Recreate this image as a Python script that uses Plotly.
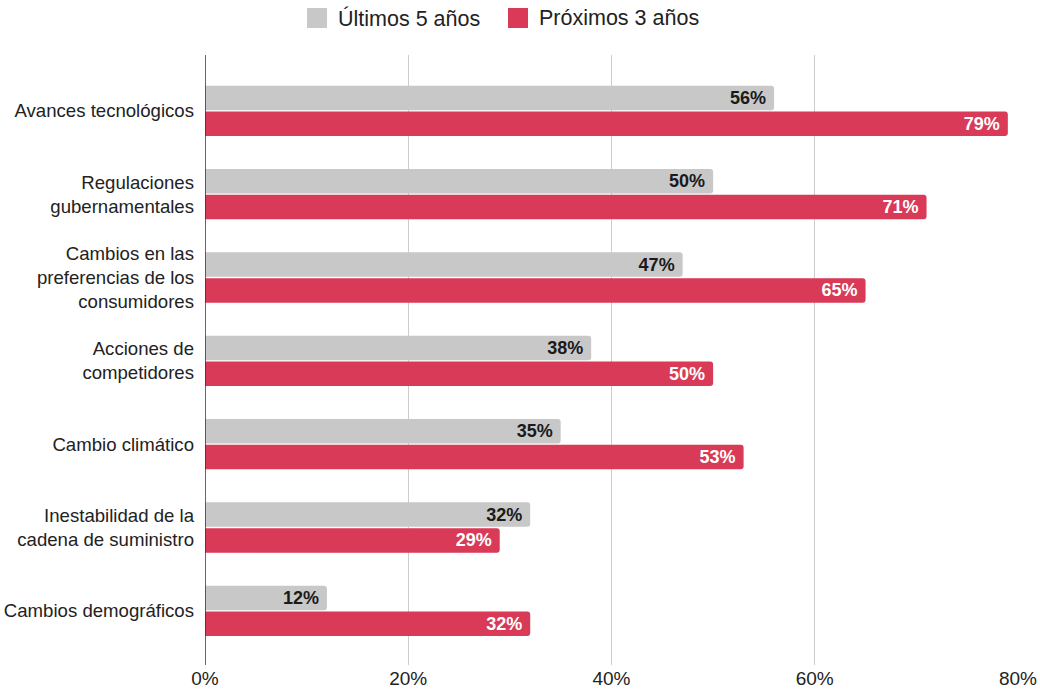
import plotly.graph_objects as go

categories = [
    "Avances tecnológicos",
    "Regulaciones<br>gubernamentales",
    "Cambios en las<br>preferencias de los<br>consumidores",
    "Acciones de<br>competidores",
    "Cambio climático",
    "Inestabilidad de la<br>cadena de suministro",
    "Cambios demográficos",
]
ultimos_5 = [56, 50, 47, 38, 35, 32, 12]
proximos_3 = [79, 71, 65, 50, 53, 29, 32]
series_names = ["Últimos 5 años", "Próximos 3 años"]
x_ticks = [0, 20, 40, 60, 80]
x_tick_labels = ["0%", "20%", "40%", "60%", "80%"]

FONT = "Liberation Sans, Arial, sans-serif"
GRAY = "#c8c8c8"
RED = "#d83a57"
TEXT = "#222222"

# plot area in pixels
W, H = 1040, 695
L, R, T, B = 205, 22, 55, 30
PW, PH = W - L - R, H - T - B


def px_to_paper(x, y):
    return (x - L) / PW, (H - B - y) / PH


fig = go.Figure()
fig.add_trace(go.Bar(
    name=series_names[0], y=categories, x=ultimos_5, orientation="h",
    marker=dict(color=GRAY, line=dict(width=0)),
    text=[f"{v}%\u00a0" for v in ultimos_5], textposition="inside",
    insidetextanchor="end", showlegend=False,
    textfont=dict(family=FONT, size=18, color="#1a1a1a", weight="bold"),
))
fig.add_trace(go.Bar(
    name=series_names[1], y=categories, x=proximos_3, orientation="h",
    marker=dict(color=RED, line=dict(width=0)),
    text=[f"{v}%\u00a0" for v in proximos_3], textposition="inside",
    insidetextanchor="end", showlegend=False,
    textfont=dict(family=FONT, size=18, color="white", weight="bold"),
))

fig.update_layout(
    width=W, height=H,
    margin=dict(l=L, r=R, t=T, b=B, autoexpand=False),
    paper_bgcolor="white", plot_bgcolor="white",
    barmode="group", bargap=0.38, bargroupgap=0.05,
    barcornerradius=3,
    font=dict(family=FONT, size=18, color=TEXT),
    uniformtext=dict(minsize=18, mode="show"),
    showlegend=False,
    xaxis=dict(
        range=[0, 80], tickvals=x_ticks, ticktext=x_tick_labels,
        showgrid=True, gridcolor="#cccccc", gridwidth=1,
        zeroline=False, showline=False, ticks="", automargin=False,
        tickfont=dict(family=FONT, size=19, color=TEXT),
    ),
    yaxis=dict(
        categoryorder="array", categoryarray=categories,
        range=[6.65, -0.67], showgrid=False, zeroline=False,
        showline=False, ticks="", ticklabelstandoff=10, automargin=False,
        tickfont=dict(family=FONT, size=18.6, color=TEXT),
    ),
)

# baseline at 0%
fig.add_shape(type="line", xref="x", yref="paper", x0=0, x1=0, y0=0, y1=1,
              line=dict(color="#333333", width=1.5))

# legend drawn as swatches + labels along the top
legend_items = [(series_names[0], GRAY, 307), (series_names[1], RED, 508)]
for name, color, sx in legend_items:
    x0, y0 = px_to_paper(sx, 28)
    x1, y1 = px_to_paper(sx + 20, 8)
    fig.add_shape(type="rect", xref="paper", yref="paper",
                  x0=x0, x1=x1, y0=y0, y1=y1,
                  fillcolor=color, line=dict(width=0))
    tx, ty = px_to_paper(sx + 29, 18)
    fig.add_annotation(xref="paper", yref="paper", x=tx, y=ty,
                       xanchor="left", yanchor="middle", showarrow=False,
                       text=name, font=dict(family=FONT, size=21.5, color=TEXT))

fig.write_html("out.html")
